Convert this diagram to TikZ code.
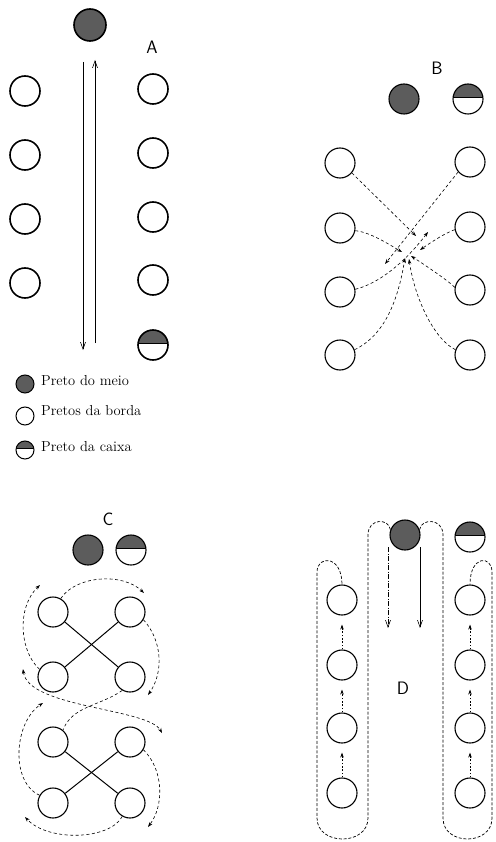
\documentclass[tikz,border=0pt]{standalone}
\usetikzlibrary{arrows.meta}
\definecolor{darkpin}{gray}{0.36}
\begin{document}
\begin{tikzpicture}[x=1pt,y=-1pt,
  pin/.style={circle,draw,line width=1.1pt,minimum size=30pt,inner sep=0pt},
  pinA/.style={pin,line width=1.6pt},
  midpin/.style={pin,fill=darkpin},
  boxpin/.style={pin,path picture={
      \fill[darkpin] (path picture bounding box.north west) rectangle ([yshift=2pt]path picture bounding box.east);
      \draw[line width=0.6pt] ([yshift=2pt]path picture bounding box.west) -- ([yshift=2pt]path picture bounding box.east);}},
  legpin/.style={minimum size=18pt,line width=1pt},
  lbl/.style={font=\fontsize{18}{20}\sffamily\selectfont},
  legtxt/.style={anchor=west,inner sep=0pt,font=\fontsize{14.5}{16}\selectfont},
  solidarr/.style={-{Straight Barb[length=7pt,width=5pt]},line width=0.6pt},
  darr/.style={-{Stealth[length=5pt,width=3.5pt]},line width=0.6pt,dash pattern=on 3pt off 2.5pt},
  dbarr/.style={{Stealth[length=5pt,width=3.5pt]}-{Stealth[length=5pt,width=3.5pt]},line width=0.6pt,dash pattern=on 3pt off 2.5pt},
  dline/.style={line width=0.6pt,dash pattern=on 3pt off 2.5pt},
  loopline/.style={line width=0.7pt,dash pattern=on 3pt off 1.8pt},
  dotarr/.style={-{Stealth[length=5pt,width=3.5pt]},line width=0.6pt,dash pattern=on 1.5pt off 1.8pt,shorten >=9pt},
  xline/.style={line width=1pt}
]
\path[use as bounding box] (0,0) rectangle (495,842);

% ---------------- Panel A ----------------
\node[midpin,pinA,minimum size=32pt] (am) at (90,25) {};
\node[lbl] (alab) at (152,47) {A};
\foreach \i/\y in {1/91,2/155,3/219,4/283}{
  \node[pinA] (al\i) at (25,\y) {};
}
\foreach \i/\y in {1/89,2/153,3/217,4/280}{
  \node[pinA] (ar\i) at (153,\y) {};
}
\node[boxpin,pinA] (abox) at (153,345) {};
\coordinate (adt) at (83,62);
\coordinate (adb) at (83,350);
\coordinate (aub) at (95,343);
\coordinate (aut) at (95,60);
\draw[solidarr] (adt) -- (adb);
\draw[solidarr] (aub) -- (aut);

% legend
\node[midpin,legpin] (leg1) at (25,384) {};
\node[pin,legpin] (leg2) at (25,416) {};
\node[boxpin,legpin] (leg3) at (25,450) {};
\node[legtxt] (lt1) at (41,381) {Preto do meio};
\node[legtxt] (lt2) at (41,411) {Pretos da borda};
\node[legtxt] (lt3) at (41,447) {Preto da caixa};

% ---------------- Panel B ----------------
\node[lbl] (blab) at (437,68) {B};
\node[midpin] (bm) at (404,99) {};
\node[boxpin] (bbox) at (468,99) {};
\node[pin] (b1) at (340,163) {};
\node[pin] (b2) at (340,228) {};
\node[pin] (b3) at (340,292) {};
\node[pin] (b4) at (340,355) {};
\node[pin] (b5) at (470,162) {};
\node[pin] (b6) at (470,227) {};
\node[pin] (b7) at (470,290) {};
\node[pin] (b8) at (470,355) {};
\coordinate (t1) at (416,236);
\coordinate (t2) at (402,252);
\coordinate (t3) at (385,264);
\coordinate (t4) at (420,250);
\coordinate (t5) at (428,232);
\coordinate (t6) at (411,256);
\coordinate (t7) at (405,258);
\coordinate (t8) at (409,259);
\draw[darr] (b1.-40) -- (t1);
\draw[darr] (b2.-10) .. controls (370,232) and (390,245) .. (t2);
\draw[darr] (b5.220) -- (t3);
\draw[darr] (b6.190) .. controls (445,233) and (430,243) .. (t4);
\draw[darr] (b3.10) .. controls (380,283) and (405,262) .. (t5);
\draw[darr] (b7.170) .. controls (450,282) and (425,265) .. (t6);
\draw[darr] (b4.20) .. controls (385,335) and (398,300) .. (t7);
\draw[darr] (b8.160) .. controls (435,340) and (415,300) .. (t8);

% ---------------- Panel C ----------------
\node[lbl] (clab) at (108,519) {C};
\node[midpin] (cm) at (88,550) {};
\node[boxpin] (cbox) at (131,550) {};
\node[pin] (c1) at (53,612) {};
\node[pin] (c2) at (130,612) {};
\node[pin] (c3) at (53,677) {};
\node[pin] (c4) at (130,677) {};
\node[pin] (c5) at (53,742) {};
\node[pin] (c6) at (130,742) {};
\node[pin] (c7) at (53,803) {};
\node[pin] (c8) at (130,803) {};
\draw[xline] (c1) -- (c4);
\draw[xline] (c2) -- (c3);
\draw[xline] (c5) -- (c8);
\draw[xline] (c6) -- (c7);
\coordinate (ct1) at (144,593);
\coordinate (ct2) at (148,695);
\coordinate (ct3) at (40,585);
\coordinate (ct4) at (23,669);
\coordinate (ct5) at (162,733);
\coordinate (ct6) at (43,703);
\coordinate (ct7) at (148,827);
\coordinate (ct8) at (25,817);
\draw[darr] (c1.60) .. controls (75,576) and (122,572) .. (ct1);
\draw[darr] (c2.-30) .. controls (162,640) and (164,672) .. (ct2);
\draw[darr] (c3.150) .. controls (20,652) and (16,608) .. (ct3);
\draw[dbarr] (ct4) .. controls (28,708) and (148,708) .. (ct5);
\draw[dline] (c4.240) .. controls (100,706) and (72,706) .. (c5.50);
\draw[darr] (c7.150) .. controls (10,782) and (14,722) .. (ct6);
\draw[darr] (c6.-30) .. controls (164,770) and (164,806) .. (ct7);
\draw[darr] (c8.240) .. controls (110,840) and (48,842) .. (ct8);

% ---------------- Panel D ----------------
\node[lbl] (dlab) at (403,688) {D};
\node[midpin] (dm) at (405,535) {};
\node[boxpin] (dbox) at (470,537) {};
\foreach \i/\y in {1/600,2/665,3/728,4/793}{
  \node[pin] (dl\i) at (342,\y) {};
  \node[pin] (dr\i) at (470,\y) {};
}
\draw[dotarr] (dl4) -- (dl3);
\draw[dotarr] (dl3) -- (dl2);
\draw[dotarr] (dl2) -- (dl1);
\draw[dotarr] (dr4) -- (dr3);
\draw[dotarr] (dr3) -- (dr2);
\draw[dotarr] (dr2) -- (dr1);
\coordinate (dat) at (388,547);
\coordinate (dab) at (388,628);
\coordinate (dbt) at (420,547);
\coordinate (dbb) at (420,628);
\draw[solidarr,dash pattern=on 5pt off 1.5pt on 1pt off 1.5pt] (dat) -- (dab);
\draw[solidarr] (dbt) -- (dbb);
\draw[loopline] (dm.160) .. controls (389,518) and (368,518) .. (368,535) -- (368,818)
   .. controls (368,846) and (317,846) .. (317,818) -- (317,572)
   .. controls (317,555) and (342,555) .. (dl1.north);
\draw[loopline] (dm.20) .. controls (421,518) and (443,518) .. (443,535) -- (443,818)
   .. controls (443,846) and (492,846) .. (492,818) -- (492,572)
   .. controls (492,555) and (470,555) .. (dr1.north);
\end{tikzpicture}
\end{document}
